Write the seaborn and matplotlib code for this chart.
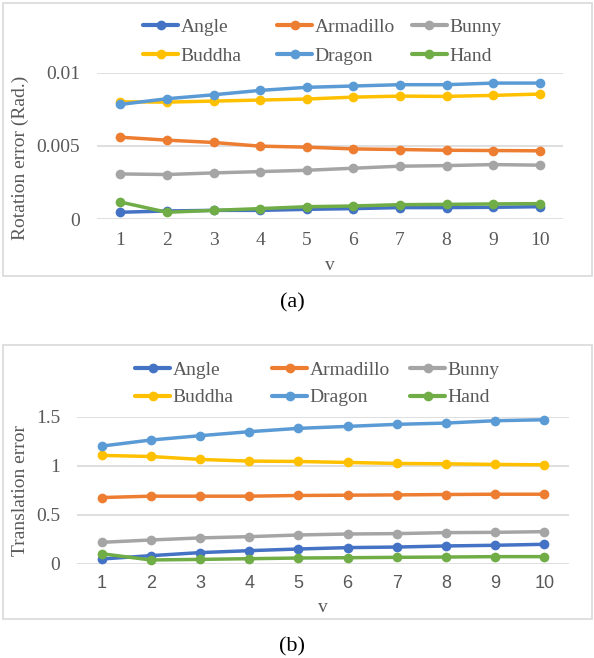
import matplotlib
matplotlib.use("Agg")
import matplotlib.pyplot as plt
import seaborn as sns
import pandas as pd
from matplotlib.lines import Line2D
from matplotlib.patches import Rectangle

# ---------------- data ----------------
v = [1, 2, 3, 4, 5, 6, 7, 8, 9, 10]
series = ["Angle", "Armadillo", "Bunny", "Buddha", "Dragon", "Hand"]
colors = ["#4472C4", "#ED7D31", "#A5A5A5", "#FFC000", "#5B9BD5", "#70AD47"]

rot_angle = [0.00046, 0.00055, 0.00059, 0.00059, 0.00066, 0.00071, 0.00078, 0.00078, 0.00080, 0.00084]
rot_armadillo = [0.00559, 0.00539, 0.00523, 0.00498, 0.00491, 0.00479, 0.00475, 0.00470, 0.00468, 0.00466]
rot_bunny = [0.00308, 0.00304, 0.00315, 0.00324, 0.00333, 0.00347, 0.00361, 0.00365, 0.00372, 0.00368]
rot_buddha = [0.00801, 0.00799, 0.00806, 0.00813, 0.00820, 0.00833, 0.00840, 0.00838, 0.00845, 0.00854]
rot_dragon = [0.00783, 0.00822, 0.00849, 0.00879, 0.00900, 0.00909, 0.00918, 0.00918, 0.00929, 0.00929]
rot_hand = [0.00116, 0.00046, 0.00059, 0.00071, 0.00084, 0.00089, 0.00098, 0.00100, 0.00103, 0.00105]

tr_angle = [0.048, 0.082, 0.113, 0.133, 0.150, 0.164, 0.170, 0.181, 0.188, 0.198]
tr_armadillo = [0.675, 0.689, 0.689, 0.689, 0.696, 0.699, 0.702, 0.706, 0.709, 0.709]
tr_bunny = [0.218, 0.242, 0.263, 0.276, 0.293, 0.303, 0.307, 0.317, 0.320, 0.327]
tr_buddha = [1.105, 1.094, 1.064, 1.047, 1.043, 1.033, 1.023, 1.019, 1.013, 1.009]
tr_dragon = [1.200, 1.262, 1.306, 1.347, 1.381, 1.401, 1.422, 1.435, 1.459, 1.469]
tr_hand = [0.102, 0.038, 0.044, 0.051, 0.058, 0.061, 0.065, 0.068, 0.072, 0.072]

rot_yticks = [0, 0.005, 0.01]
rot_ylabels = ["0", "0.005", "0.01"]
tr_yticks = [0, 0.5, 1, 1.5]
tr_ylabels = ["0", "0.5", "1", "1.5"]


def long_df(values):
    rows = []
    for name, vals in zip(series, values):
        for x, y in zip(v, vals):
            rows.append({"v": x, "series": name, "value": y})
    return pd.DataFrame(rows)


rot_df = long_df([rot_angle, rot_armadillo, rot_bunny, rot_buddha, rot_dragon, rot_hand])
tr_df = long_df([tr_angle, tr_armadillo, tr_bunny, tr_buddha, tr_dragon, tr_hand])

# ---------------- style ----------------
sns.set_style("white")
plt.rcParams["font.family"] = ["Liberation Serif", "DejaVu Serif"]
TXT = "#595959"
GRID = "#D9D9D9"
FS_TICK = 14
FS_LEG = 14
FS_LAB = 14
FS_CAP = 16

W, H = 594, 658
fig = plt.figure(figsize=(W / 100, H / 100), dpi=100)


def fx(px):
    return px / W


def fy(py):
    return 1 - py / H


def panel(df, left, right, top, bottom, yticks, ylabels, ylim, ylabel, ylab_xy,
          legend_x, legend_y, lspacing, vlab_y, cap, cap_y, box, xtick_family,
          xtick_fs, xpad):
    ax = fig.add_axes([fx(left), fy(bottom), fx(right) - fx(left), fy(top) - fy(bottom)])
    sns.lineplot(data=df, x="v", y="value", hue="series", hue_order=series,
                 palette=colors, marker="o", markersize=7, markeredgewidth=0,
                 linewidth=2.5, legend=False, ax=ax, clip_on=False)
    ax.set_xlim(0.5, 10.5)
    ax.set_ylim(*ylim)
    ax.set_xticks(v)
    ax.set_xticklabels([str(i) for i in v], family=xtick_family, fontsize=xtick_fs)
    ax.set_yticks(yticks)
    ax.set_yticklabels(ylabels, fontsize=FS_TICK)
    ax.tick_params(axis="both", length=0, colors=TXT)
    ax.tick_params(axis="y", pad=12)
    ax.tick_params(axis="x", pad=xpad)
    ax.set_xlabel("")
    ax.set_ylabel("")
    for s in ax.spines.values():
        s.set_visible(False)
    ax.yaxis.grid(True, color=GRID, linewidth=1.2)
    ax.xaxis.grid(False)
    ax.set_axisbelow(True)
    ax.patch.set_alpha(0)

    fig.text(fx(ylab_xy[0]), fy(ylab_xy[1]), ylabel, rotation=90, ha="center",
             va="center", fontsize=FS_LAB, color=TXT)
    fig.text(fx((left + right) / 2), fy(vlab_y), "v", ha="center", va="center",
             fontsize=FS_LAB, color=TXT)
    fig.text(fx(292), fy(cap_y), cap, ha="center", va="center", fontsize=FS_CAP,
             color="black")

    handles = [Line2D([0], [0], color=c, lw=3, marker="o", markersize=7,
                      markeredgewidth=0) for c in colors]
    for col in range(3):
        idx = [col, col + 3]
        fig.legend([handles[i] for i in idx], [series[i] for i in idx],
                   loc="center left",
                   bbox_to_anchor=(fx(legend_x[col]), fy(legend_y)),
                   frameon=False, fontsize=FS_LEG, handlelength=1.8,
                   handletextpad=0.12, borderpad=0, borderaxespad=0,
                   labelspacing=lspacing, labelcolor=TXT)
    fig.patches.append(Rectangle((fx(box[0]), fy(box[3])), fx(box[2]) - fx(box[0]),
                                 fy(box[1]) - fy(box[3]), transform=fig.transFigure,
                                 fill=False, edgecolor=GRID, linewidth=1.2))
    return ax


panel(rot_df, 97, 563, 72.7, 219, rot_yticks, rot_ylabels, (0, 0.01),
      "Rotation error (Rad.)", (20, 158), [143, 277, 412], 41.5, 0.6, 265, "(a)", 303,
      (3, 3, 592, 276), "Liberation Serif", FS_TICK, 9)

panel(tr_df, 77, 569, 416.7, 563.7, tr_yticks, tr_ylabels, (0, 1.5),
      "Translation error", (21, 490), [135, 272, 410], 384, 0.5, 607, "(b)", 647,
      (3, 345, 592, 619), "Liberation Sans", 13, 8)

fig.savefig("out.png", dpi=100)
